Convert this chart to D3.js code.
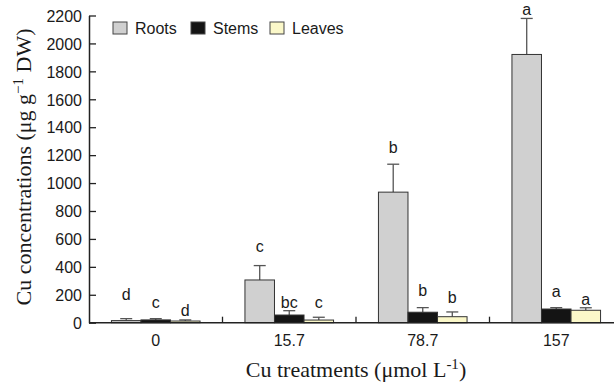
<!DOCTYPE html>
<html>
<head>
<meta charset="utf-8">
<script src="https://cdn.jsdelivr.net/npm/d3@7/dist/d3.min.js"></script>
<style>
  body { margin: 0; background: #fff; }
  svg { display: block; }
  .tick-label { font-family: "Liberation Sans", Arial, sans-serif; font-size: 16px; fill: #1a1a1a; }
  .axis-title { font-family: "Liberation Serif", "Times New Roman", serif; font-size: 22px; fill: #1a1a1a; }
</style>
</head>
<body>
<div id="chart"></div>
<script>
// Cu concentrations by treatment (μg g-1 DW)
const treatments = ['0', '15.7', '78.7', '157'];
const series = ['Roots', 'Stems', 'Leaves'];
const rootsValues = [15, 306, 935, 1921];
const stemsValues = [20, 55, 75, 98];
const leavesValues = [12, 19, 43, 89];
const rootsErrTop = [29, 409, 1135, 2179];
const stemsErrTop = [29, 86, 108, 108];
const leavesErrTop = [20, 39, 77, 107];
const rootsLetters = ['d', 'c', 'b', 'a'];
const stemsLetters = ['c', 'bc', 'b', 'a'];
const leavesLetters = ['d', 'c', 'b', 'a'];
// where the letter baseline sits, in data units
const rootsLetterAt = [163, 509, 1214, 2206];
const stemsLetterAt = [107, 103, 194, 186];
const leavesLetterAt = [50, 103, 139, 127];
const yTicks = d3.range(0, 2201, 200);

const colors = { Roots: '#d0d0d0', Stems: '#141414', Leaves: '#fbf8c9' };

const width = 614, height = 383;
const margin = { left: 89, top: 15.5, bottom: 60.3 };

const svg = d3.select('#chart').append('svg')
  .attr('width', width)
  .attr('height', height);

const x = d3.scaleBand().domain(treatments).range([margin.left, 623]).padding(0);
const xInner = d3.scaleBand().domain(series).range([0, x.bandwidth()]).paddingInner(0).paddingOuter(0.76);
const y = d3.scaleLinear().domain([0, 2200]).range([height - margin.bottom, margin.top]);

const rows = [];
treatments.forEach((t, i) => {
  rows.push({ t, s: 'Roots', v: rootsValues[i], e: rootsErrTop[i], l: rootsLetters[i], la: rootsLetterAt[i] });
  rows.push({ t, s: 'Stems', v: stemsValues[i], e: stemsErrTop[i], l: stemsLetters[i], la: stemsLetterAt[i] });
  rows.push({ t, s: 'Leaves', v: leavesValues[i], e: leavesErrTop[i], l: leavesLetters[i], la: leavesLetterAt[i] });
});

const g = svg.append('g');

// error bars first so bars sit over the bottom of them
const err = g.selectAll('g.err').data(rows).enter().append('g').attr('class', 'err');
err.append('line')
  .attr('x1', d => x(d.t) + xInner(d.s) + xInner.bandwidth() / 2)
  .attr('x2', d => x(d.t) + xInner(d.s) + xInner.bandwidth() / 2)
  .attr('y1', d => y(d.v))
  .attr('y2', d => y(d.e))
  .attr('stroke', '#555').attr('stroke-width', 1.3);
err.append('line')
  .attr('x1', d => x(d.t) + xInner(d.s) + xInner.bandwidth() / 2 - 6)
  .attr('x2', d => x(d.t) + xInner(d.s) + xInner.bandwidth() / 2 + 6)
  .attr('y1', d => y(d.e))
  .attr('y2', d => y(d.e))
  .attr('stroke', '#555').attr('stroke-width', 1.3);

g.selectAll('rect.bar').data(rows).enter().append('rect')
  .attr('class', 'bar')
  .attr('x', d => x(d.t) + xInner(d.s))
  .attr('width', xInner.bandwidth())
  .attr('y', d => y(d.v))
  .attr('height', d => y(0) - y(d.v))
  .attr('fill', d => colors[d.s])
  .attr('stroke', '#333')
  .attr('stroke-width', 1);

g.selectAll('text.letter').data(rows).enter().append('text')
  .attr('class', 'tick-label')
  .attr('x', d => x(d.t) + xInner(d.s) + xInner.bandwidth() / 2)
  .attr('y', d => y(d.la))
  .attr('text-anchor', 'middle')
  .text(d => d.l);

// y axis, ticks pointing inward
const yAxis = svg.append('g')
  .attr('transform', `translate(${margin.left},0)`)
  .call(d3.axisRight(y).tickValues(yTicks).tickSize(7).tickSizeOuter(0).tickFormat(d3.format('d')));
yAxis.select('.domain').attr('stroke', '#222').attr('stroke-width', 1.5);
yAxis.selectAll('.tick line').attr('stroke', '#222').attr('stroke-width', 1.3);
yAxis.selectAll('.tick text')
  .attr('class', 'tick-label')
  .attr('x', -7)
  .attr('text-anchor', 'end')
  .attr('dy', '0.36em');

// x axis: baseline with short inward ticks at category boundaries
const xAxis = svg.append('g').attr('transform', `translate(0,${y(0)})`);
xAxis.append('line')
  .attr('x1', margin.left).attr('x2', width)
  .attr('stroke', '#222').attr('stroke-width', 1.5);
xAxis.selectAll('line.sep').data(treatments.slice(1)).enter().append('line')
  .attr('x1', d => x(d)).attr('x2', d => x(d))
  .attr('y1', 0).attr('y2', -6)
  .attr('stroke', '#222').attr('stroke-width', 1.3);
xAxis.selectAll('text').data(treatments).enter().append('text')
  .attr('class', 'tick-label')
  .attr('x', d => x(d) + x.bandwidth() / 2)
  .attr('y', 23)
  .attr('text-anchor', 'middle')
  .text(d => d);

// axis titles
const yTitle = svg.append('text')
  .attr('class', 'axis-title')
  .attr('transform', `translate(31,167) rotate(-90)`)
  .attr('text-anchor', 'middle');
yTitle.append('tspan').text('Cu concentrations (μg g');
yTitle.append('tspan').attr('dy', -8).attr('font-size', 15).text('−1');
yTitle.append('tspan').attr('dy', 8).text(' DW)');

const xTitle = svg.append('text')
  .attr('class', 'axis-title')
  .attr('x', 356)
  .attr('y', 377)
  .attr('text-anchor', 'middle');
xTitle.append('tspan').text('Cu treatments (μmol L');
xTitle.append('tspan').attr('dy', -8).attr('font-size', 15).text('-1');
xTitle.append('tspan').attr('dy', 8).text(')');

// legend
const legendX = [113, 191, 270];
const legend = svg.selectAll('g.legend').data(series).enter().append('g')
  .attr('class', 'legend')
  .attr('transform', (d, i) => `translate(${legendX[i]},22)`);
legend.append('rect')
  .attr('width', 14).attr('height', 12)
  .attr('fill', d => colors[d])
  .attr('stroke', '#444').attr('stroke-width', 1);
legend.append('text')
  .attr('class', 'tick-label')
  .attr('x', 22).attr('y', 11.5)
  .text(d => d);
</script>
</body>
</html>
